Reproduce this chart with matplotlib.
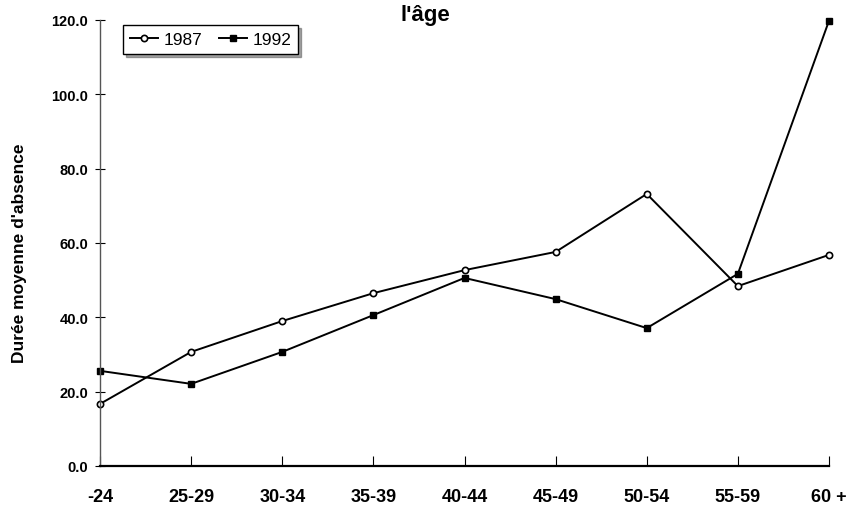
import matplotlib
matplotlib.use("Agg")
import matplotlib.pyplot as plt

AGE_GROUPS = ["-24", "25-29", "30-34", "35-39", "40-44", "45-49", "50-54", "55-59", "60 +"]
VALUES_1987 = [16.7, 30.7, 39.0, 46.5, 52.7, 57.6, 73.2, 48.4, 56.8]
VALUES_1992 = [25.6, 22.1, 30.7, 40.6, 50.6, 44.9, 37.1, 51.7, 119.8]
Y_TICKS = [0, 20, 40, 60, 80, 100, 120]

plt.rcParams["font.family"] = ["Liberation Sans Narrow", "Liberation Sans", "DejaVu Sans"]
plt.rcParams["font.weight"] = "bold"

fig = plt.figure(figsize=(8.52, 5.10), dpi=100)
ax = fig.add_axes([100 / 852, 1 - 467 / 510, 729 / 852, 446 / 510])

x = list(range(len(AGE_GROUPS)))
ax.plot(x, VALUES_1987, color="black", lw=1.4, marker="o", ms=4.5,
        mfc="white", mec="black", mew=1.2, label="1987", clip_on=False)
ax.plot(x, VALUES_1992, color="black", lw=1.4, marker="s", ms=5,
        mfc="black", mec="black", label="1992", clip_on=False)

ax.set_xlim(0, len(AGE_GROUPS) - 1)
ax.set_ylim(0, 120)
ax.set_xticks(x)
ax.set_xticklabels(AGE_GROUPS, fontsize=13, fontweight="bold")
ax.set_yticks(Y_TICKS)
ax.set_yticklabels([f"{v:.1f}" for v in Y_TICKS], fontsize=10.5, fontweight="bold")
ax.tick_params(axis="x", direction="in", length=7, pad=16, color="black")
ax.tick_params(axis="y", direction="inout", length=7, pad=5, color="black")

for side in ["top", "right"]:
    ax.spines[side].set_visible(False)
ax.spines["left"].set_color("#555555")
ax.spines["left"].set_linewidth(1.0)
ax.spines["bottom"].set_linewidth(1.6)

ax.set_ylabel("Durée moyenne d'absence", fontsize=12.5, fontweight="bold", labelpad=20)
ax.yaxis.set_label_coords(-0.1, 0.48)

fig.text(425 / 852, 1 - 16 / 510, "l'âge", fontsize=16, fontweight="bold",
         ha="center", va="center")

leg = ax.legend(loc="upper left", bbox_to_anchor=(0.025, 1.0), ncol=2,
                frameon=True, fancybox=False, shadow=True,
                prop={"size": 12.5, "weight": "normal", "family": ["Liberation Sans", "DejaVu Sans"]},
                handlelength=1.6, handletextpad=0.3, columnspacing=1.0,
                borderpad=0.4, borderaxespad=0.3)
leg.get_frame().set_edgecolor("black")
leg.get_frame().set_linewidth(1.0)

fig.savefig("out.png", dpi=100)
